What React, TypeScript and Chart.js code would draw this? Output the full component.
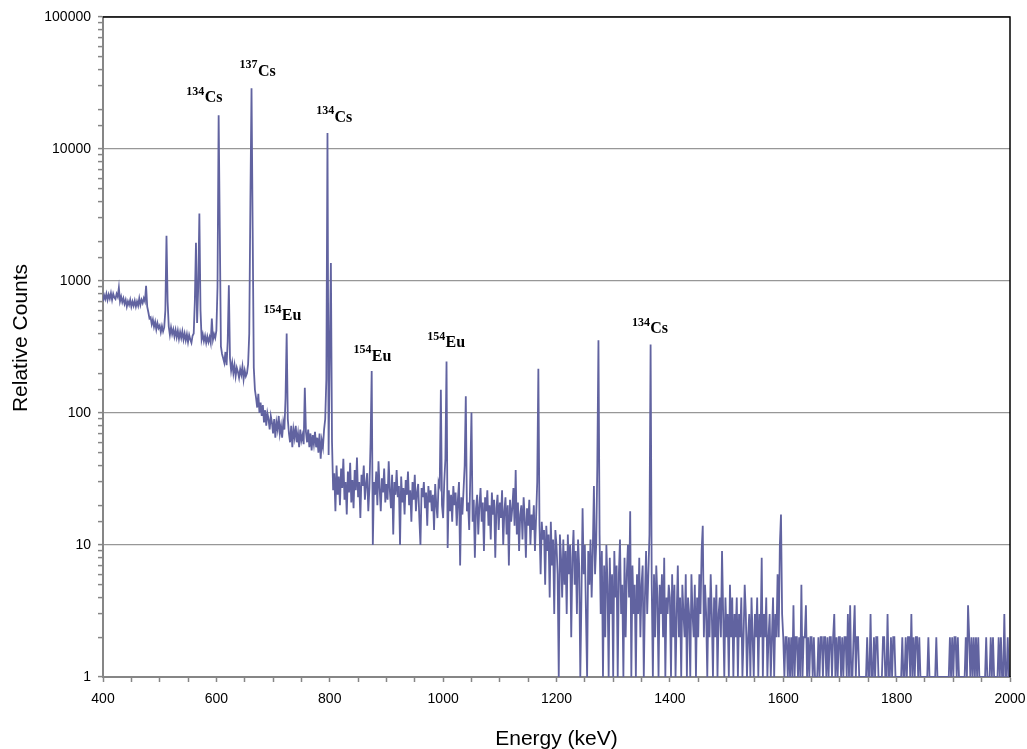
import React, { useEffect, useRef } from 'react';
import { Chart, registerables } from 'chart.js';

Chart.register(...registerables);

// Channel calibration of the spectrum: first channel energy and channel width (keV)
const START_KEV = 400;
const STEP_KEV = 2;

// Relative counts per 2 keV channel
const counts400to598: number[] = [
  700, 780, 730, 800, 720, 790, 735, 810, 720, 800,
  750, 730, 800, 760, 890, 700, 760, 690, 740, 670,
  720, 640, 700, 660, 720, 640, 700, 650, 710, 640,
  700, 650, 740, 660, 720, 680, 740, 700, 920, 640,
  580, 520, 530, 470, 510, 450, 490, 430, 480, 440,
  460, 410, 455, 415, 445, 600, 2200, 700, 450, 390,
  445, 395, 430, 380, 425, 375, 420, 365, 410, 370,
  415, 360, 400, 355, 395, 345, 390, 360, 340, 385,
  400, 700, 1950, 480, 900, 3250, 600, 360, 395, 350,
  385, 340, 380, 345, 375, 340, 520, 360, 395, 370,
];
const counts600to798: number[] = [
  420, 900, 18000, 2500, 320, 280, 260, 240, 290, 230,
  350, 930, 260, 210, 240, 200, 230, 190, 220, 205,
  185, 215, 195, 225, 180, 210, 190, 200, 235, 400,
  4000, 28900, 2500, 220, 150, 130, 110, 140, 100, 120,
  95, 115, 85, 105, 80, 100, 90, 75, 95, 85,
  70, 90, 65, 85, 75, 95, 70, 80, 65, 85,
  75, 130, 400, 90, 70, 60, 80, 55, 75, 65,
  80, 60, 70, 55, 75, 62, 68, 58, 155, 72,
  60, 75, 55, 70, 52, 68, 58, 72, 55, 65,
  50, 70, 45, 62, 55, 75, 90, 180, 13200, 48,
];
const counts800to998: number[] = [
  300, 1370, 60, 26, 35, 18, 40, 24, 33, 20,
  38, 27, 45, 22, 30, 17, 36, 25, 42, 21,
  31, 19, 37, 26, 46, 23, 30, 16, 34, 28,
  40, 22, 29, 35, 18, 27, 60, 208, 10, 30,
  24, 36, 20, 43, 27, 18, 32, 25, 38, 21,
  29, 22, 43, 26, 19, 34, 12, 30, 24, 37,
  23, 28, 10, 33, 21, 27, 17, 31, 24, 36,
  20, 26, 15, 30, 22, 34, 18, 25, 29, 16,
  10, 27, 23, 30, 19, 25, 14, 28, 21, 26,
  18, 24, 13, 29, 20, 16, 30, 28, 150, 20,
];
const counts1000to1198: number[] = [
  16, 30, 45, 246, 9.5, 26, 18, 24, 15, 28,
  20, 25, 14, 22, 30, 7, 23, 17, 26, 40,
  134, 18, 21, 13, 35, 101, 15, 22, 8, 19,
  24, 12, 20, 27, 15, 21, 9, 23, 18, 26,
  14, 20, 11, 25, 17, 22, 8, 19, 24, 13,
  21, 16, 26, 10, 18, 23, 12, 20, 7, 22,
  15, 19, 27, 14, 37, 12, 21, 9, 17, 20,
  11, 23, 16, 8, 19, 14, 22, 10, 17, 13,
  20, 9, 16, 30, 216, 14, 6, 15, 11, 13,
  5, 14, 9, 12, 4, 15, 7, 11, 3, 13,
];
const counts1200to1398: number[] = [
  10, 6, 1, 12, 8, 4, 11, 5, 9, 3,
  12, 6, 10, 2, 8, 13, 5, 9, 3, 11,
  7, 1, 4, 19, 6, 10, 3, 1, 9, 5,
  11, 4, 9, 28, 6, 10, 40, 355, 12, 3,
  9, 1, 7, 2, 10, 5, 1, 8, 3, 6,
  1, 9, 4, 7, 1, 6, 11, 3, 5, 1,
  8, 2, 6, 10, 4, 18, 1, 7, 3, 5,
  1, 6, 3, 8, 2, 5, 7, 1, 4, 9,
  3, 6, 12, 330, 5, 1, 6, 2, 7, 4,
  1, 5, 3, 6, 2, 8, 1, 4, 3, 5,
];
const counts1400to1598: number[] = [
  4, 1, 6, 2, 5, 1, 3, 7, 2, 4,
  1, 5, 3, 2, 6, 1, 4, 3, 1, 6,
  3, 2, 5, 1, 4, 2, 6, 3, 9, 14,
  2, 5, 3, 1, 4, 2, 6, 3, 1, 4,
  2, 5, 1, 3, 4, 2, 9, 3, 1, 4,
  2, 3, 1, 5, 2, 4, 1, 3, 2, 4,
  1, 3, 2, 4, 1, 2, 5, 3, 1, 2,
  3, 1, 4, 2, 1, 3, 2, 4, 1, 3,
  2, 8, 1, 3, 2, 4, 1, 2, 3, 1,
  2, 4, 1, 3, 2, 6, 2, 10, 17, 3,
];
const counts1600to1798: number[] = [
  2, 1, 2, 2, 1, 2, 1, 2, 1, 3.5,
  1, 2, 2, 1, 2, 1, 5, 1, 2, 2,
  3.5, 1, 2, 1, 2, 2, 1, 2, 1, 1,
  1, 2, 1, 2, 2, 1, 2, 2, 1, 2,
  1, 2, 2, 1, 2, 3, 1, 2, 1, 2,
  2, 1, 2, 1, 2, 2, 1, 3, 1, 3.5,
  1, 1, 2, 3.5, 1, 2, 2, 1, 1, 1,
  1, 1, 1, 1, 2, 1, 1, 3, 1, 1,
  2, 1, 2, 2, 1, 1, 1, 1, 2, 2,
  1, 1, 3, 1, 1, 2, 1, 2, 2, 1,
];
const counts1800to2000: number[] = [
  1, 1, 1, 1, 1, 2, 1, 1, 2, 1,
  2, 2, 1, 3, 1, 2, 1, 2, 2, 1,
  2, 1, 1, 1, 1, 1, 1, 1, 2, 1,
  1, 1, 1, 1, 1, 2, 1, 1, 1, 1,
  1, 1, 1, 1, 1, 1, 1, 2, 1, 2,
  1, 2, 2, 1, 2, 1, 1, 1, 1, 1,
  1, 2, 1, 3.5, 2, 1, 2, 1, 2, 1,
  2, 1, 2, 1, 1, 1, 1, 1, 1, 2,
  1, 1, 1, 2, 1, 2, 1, 1, 1, 1,
  2, 1, 2, 1, 1, 3, 1, 1, 2, 1,
  1,
];

// Axis settings
const X_MIN = 400;
const X_MAX = 2000;
const X_LABEL_STEP = 200;
const X_MINOR_STEP = 50;
const Y_MIN = 1;
const Y_MAX = 100000;

const X_TITLE = 'Energy (keV)';
const Y_TITLE = 'Relative Counts';

// Peak labels: mass number, element, left edge energy (keV), baseline counts
const labelMass: string[] = ['134', '137', '134', '154', '154', '154', '134'];
const labelSymbol: string[] = ['Cs', 'Cs', 'Cs', 'Eu', 'Eu', 'Eu', 'Cs'];
const labelEnergy: number[] = [547, 641, 776, 683, 842, 972, 1333];
const labelCount: number[] = [22700, 35900, 16070, 504, 248, 315, 402];

const SANS = "'Liberation Sans', Arial, sans-serif";
const SERIF = "'Liberation Serif', 'DejaVu Serif', serif";
const LINE_COLOR = '#6163A0';
const AXIS_COLOR = '#868686';
const GRID_COLOR = '#979797';

const isPow10 = (v: number) => {
  if (!(v > 0)) return false;
  const l = Math.log10(v);
  return Math.abs(l - Math.round(l)) < 1e-6;
};

const decorPlugin = {
  id: 'decor',
  afterDatasetsDraw(chart: any) {
    const { ctx, chartArea, scales } = chart;
    const xs = scales.x;
    const ys = scales.y;
    ctx.save();
    // top and right frame
    ctx.strokeStyle = '#000';
    ctx.lineWidth = 1.5;
    ctx.beginPath();
    ctx.moveTo(chartArea.left, chartArea.top);
    ctx.lineTo(chartArea.right, chartArea.top);
    ctx.lineTo(chartArea.right, chartArea.bottom);
    ctx.stroke();

    // peak labels
    ctx.fillStyle = '#000';
    ctx.textAlign = 'left';
    ctx.textBaseline = 'alphabetic';
    for (let i = 0; i < labelMass.length; i++) {
      const x = xs.getPixelForValue(labelEnergy[i]);
      const y = ys.getPixelForValue(labelCount[i]);
      ctx.font = `bold 12px ${SERIF}`;
      ctx.fillText(labelMass[i], x, y - 7.5);
      const w = ctx.measureText(labelMass[i]).width;
      ctx.font = `bold 16px ${SERIF}`;
      ctx.fillText(labelSymbol[i], x + w + 0.3, y);
    }
    ctx.restore();
  },
  afterDraw(chart: any) {
    const { ctx, chartArea } = chart;
    ctx.save();
    ctx.fillStyle = '#000';
    ctx.font = `21px ${SANS}`;
    ctx.textAlign = 'center';
    ctx.textBaseline = 'alphabetic';
    ctx.fillText(X_TITLE, (chartArea.left + chartArea.right) / 2, 745);
    ctx.translate(26.5, 338);
    ctx.rotate(-Math.PI / 2);
    ctx.fillText(Y_TITLE, 0, 0);
    ctx.restore();
  },
};

export default function App() {
  const ref = useRef<HTMLCanvasElement>(null);

  useEffect(() => {
    const counts = [
      ...counts400to598,
      ...counts600to798,
      ...counts800to998,
      ...counts1000to1198,
      ...counts1200to1398,
      ...counts1400to1598,
      ...counts1600to1798,
      ...counts1800to2000,
    ];
    const points = counts.map((c, i) => ({ x: START_KEV + STEP_KEV * i, y: c }));

    const chart = new Chart(ref.current as HTMLCanvasElement, {
      type: 'line',
      data: {
        datasets: [
          {
            data: points,
            borderColor: LINE_COLOR,
            borderWidth: 1.8,
            pointRadius: 0,
            tension: 0,
            fill: false,
          },
        ],
      },
      options: {
        animation: false,
        responsive: false,
        maintainAspectRatio: false,
        events: [],
        layout: { padding: { top: 17, right: 17, left: 0, bottom: 0 } },
        plugins: {
          legend: { display: false },
          tooltip: { enabled: false },
          title: { display: false },
        },
        scales: {
          x: {
            type: 'linear',
            min: X_MIN,
            max: X_MAX,
            afterFit: (s: any) => {
              s.height = 72;
              s.paddingLeft = 0;
              s.paddingRight = 0;
            },
            ticks: {
              stepSize: X_MINOR_STEP,
              autoSkip: false,
              maxRotation: 0,
              minRotation: 0,
              padding: 9,
              color: '#000',
              font: { family: SANS, size: 14 },
              callback: (v: any) => (Number(v) % X_LABEL_STEP === 0 ? String(v) : ''),
            },
            grid: {
              drawOnChartArea: false,
              drawTicks: true,
              tickLength: 5,
              tickColor: AXIS_COLOR,
              tickWidth: 1.5,
            },
            border: { display: true, color: AXIS_COLOR, width: 2 },
          },
          y: {
            type: 'logarithmic',
            min: Y_MIN,
            max: Y_MAX,
            afterFit: (s: any) => {
              s.width = 103;
              s.paddingTop = 0;
              s.paddingBottom = 0;
            },
            ticks: {
              autoSkip: false,
              padding: 7,
              color: '#000',
              font: { family: SANS, size: 14 },
              callback: (v: any) => (isPow10(Number(v)) ? String(Math.round(Number(v))) : ''),
            },
            grid: {
              drawOnChartArea: true,
              color: (c: any) => (c.tick && isPow10(c.tick.value) ? GRID_COLOR : 'rgba(0,0,0,0)'),
              lineWidth: 1.2,
              tickLength: 5,
              tickColor: AXIS_COLOR,
              tickWidth: 1.5,
            },
            border: { display: true, color: AXIS_COLOR, width: 2 },
          },
        },
      },
      plugins: [decorPlugin],
    });
    return () => chart.destroy();
  }, []);

  return (
    <div style={{ position: 'absolute', left: 0, top: 0, width: 1027, height: 749, background: '#fff' }}>
      <canvas ref={ref} width={1027} height={749} style={{ display: 'block', width: 1027, height: 749 }} />
    </div>
  );
}
